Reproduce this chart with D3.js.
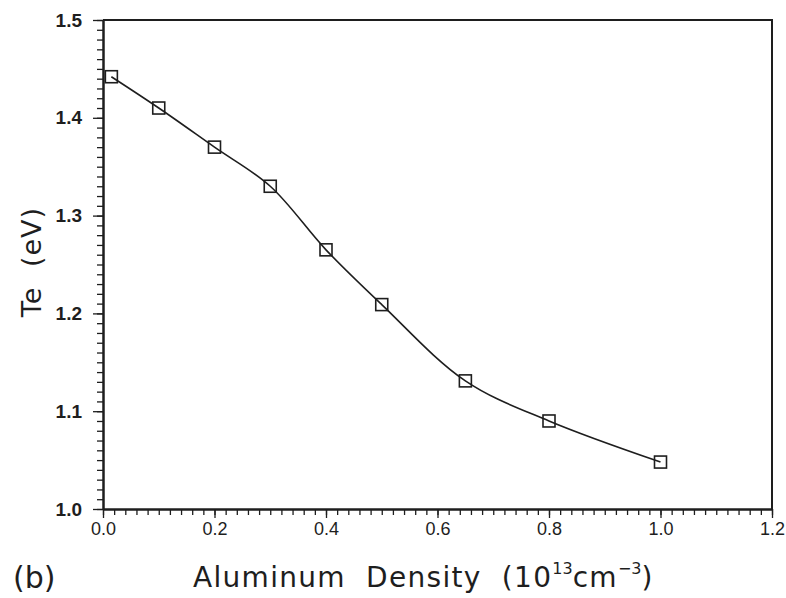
<!DOCTYPE html>
<html>
<head>
<meta charset="utf-8">
<script src="https://cdn.jsdelivr.net/npm/d3@7"></script>
<style>
  html, body { margin: 0; padding: 0; background: #fff; }
  svg { display: block; }
</style>
</head>
<body>
<svg id="chart" width="786" height="598"></svg>
<script>
// Data
const density = [0.015, 0.1, 0.2, 0.3, 0.4, 0.5, 0.65, 0.8, 1.0];
const te      = [1.442, 1.410, 1.370, 1.330, 1.265, 1.209, 1.131, 1.090, 1.048];
const xTickLabels = ["0.0", "0.2", "0.4", "0.6", "0.8", "1.0", "1.2"];
const yTickLabels = ["1.0", "1.1", "1.2", "1.3", "1.4", "1.5"];

const svg = d3.select("#chart");
const ink = "#1e1e1e";

const x = d3.scaleLinear().domain([0, 1.2]).range([103, 772]);
const y = d3.scaleLinear().domain([1.0, 1.5]).range([509, 20]);

// Frame (top and right)
svg.append("path")
  .attr("d", `M${x(0)},${y(1.5)}H${x(1.2)}V${y(1.0)}`)
  .attr("fill", "none").attr("stroke", ink).attr("stroke-width", 2);

// X axis: minor ticks every 0.02, labels every 0.2
const xMinor = d3.range(0, 61).map(i => i * 0.02);
const xAxisMinor = d3.axisBottom(x).tickValues(xMinor).tickSize(6).tickFormat("").tickSizeOuter(0);
const gxm = svg.append("g").attr("transform", `translate(0,${y(1.0)})`).call(xAxisMinor);
const xMajorVals = xTickLabels.map(Number);
const xAxis = d3.axisBottom(x).tickValues(xMajorVals).tickSize(9)
  .tickFormat((d, i) => xTickLabels[i]).tickSizeOuter(0).tickPadding(3);
const gx = svg.append("g").attr("transform", `translate(0,${y(1.0)})`).call(xAxis);

// Y axis: minor ticks every 0.01, labels every 0.1
const yMinor = d3.range(0, 51).map(i => 1.0 + i * 0.01);
const yAxisMinor = d3.axisLeft(y).tickValues(yMinor).tickSize(6).tickFormat("").tickSizeOuter(0);
const gym = svg.append("g").attr("transform", `translate(${x(0)},0)`).call(yAxisMinor);
const yMajorVals = yTickLabels.map(Number);
const yAxis = d3.axisLeft(y).tickValues(yMajorVals).tickSize(10)
  .tickFormat((d, i) => yTickLabels[i]).tickSizeOuter(0).tickPadding(11);
const gy = svg.append("g").attr("transform", `translate(${x(0)},0)`).call(yAxis);

[gxm, gx, gym, gy].forEach(g => {
  g.selectAll(".domain").attr("stroke", ink).attr("stroke-width", 2);
  g.selectAll(".tick line").attr("stroke", ink).attr("stroke-width", 1.3);
});
gx.selectAll(".tick text")
  .attr("font-family", "Liberation Sans, Arial, sans-serif")
  .attr("font-size", 18).attr("fill", ink).attr("dy", "0.75em");
gy.selectAll(".tick text")
  .attr("font-family", "Liberation Sans, Arial, sans-serif")
  .attr("font-size", 19).attr("font-weight", "bold").attr("fill", ink);

// Curve
const pts = density.map((d, i) => [d, te[i]]);
const line = d3.line().x(d => x(d[0])).y(d => y(d[1])).curve(d3.curveCatmullRom.alpha(0.5));
svg.append("path").datum(pts).attr("d", line)
  .attr("fill", "none").attr("stroke", ink).attr("stroke-width", 1.6);

// Square markers
const s = 12;
svg.append("g").selectAll("rect").data(pts).join("rect")
  .attr("x", d => x(d[0]) - s / 2).attr("y", d => y(d[1]) - s / 2)
  .attr("width", s).attr("height", s)
  .attr("fill", "none").attr("stroke", ink).attr("stroke-width", 1.6);

// Axis titles
svg.append("text")
  .attr("transform", `translate(41,262) rotate(-90)`)
  .attr("text-anchor", "middle")
  .attr("font-family", "DejaVu Sans, sans-serif").attr("font-size", 27)
  .attr("letter-spacing", 1)
  .attr("fill", ink).attr("word-spacing", 10)
  .text("Te (eV)");

const xt = svg.append("text")
  .attr("x", 193).attr("y", 587)
  .attr("font-family", "DejaVu Sans, sans-serif").attr("font-size", 28)
  .attr("letter-spacing", 1.3)
  .attr("fill", ink).attr("word-spacing", 10);
xt.append("tspan").text("Aluminum Density (10");
xt.append("tspan").attr("font-size", 16).attr("dy", -13).attr("letter-spacing", 0).text("13");
xt.append("tspan").attr("dy", 13).text("cm");
xt.append("tspan").attr("font-size", 16).attr("dy", -13).attr("letter-spacing", 0).text("−3");
xt.append("tspan").attr("dy", 13).text(")");

svg.append("text")
  .attr("x", 13).attr("y", 588)
  .attr("font-family", "DejaVu Sans, sans-serif").attr("font-size", 30)
  .attr("fill", ink).text("(b)");
</script>
</body>
</html>
